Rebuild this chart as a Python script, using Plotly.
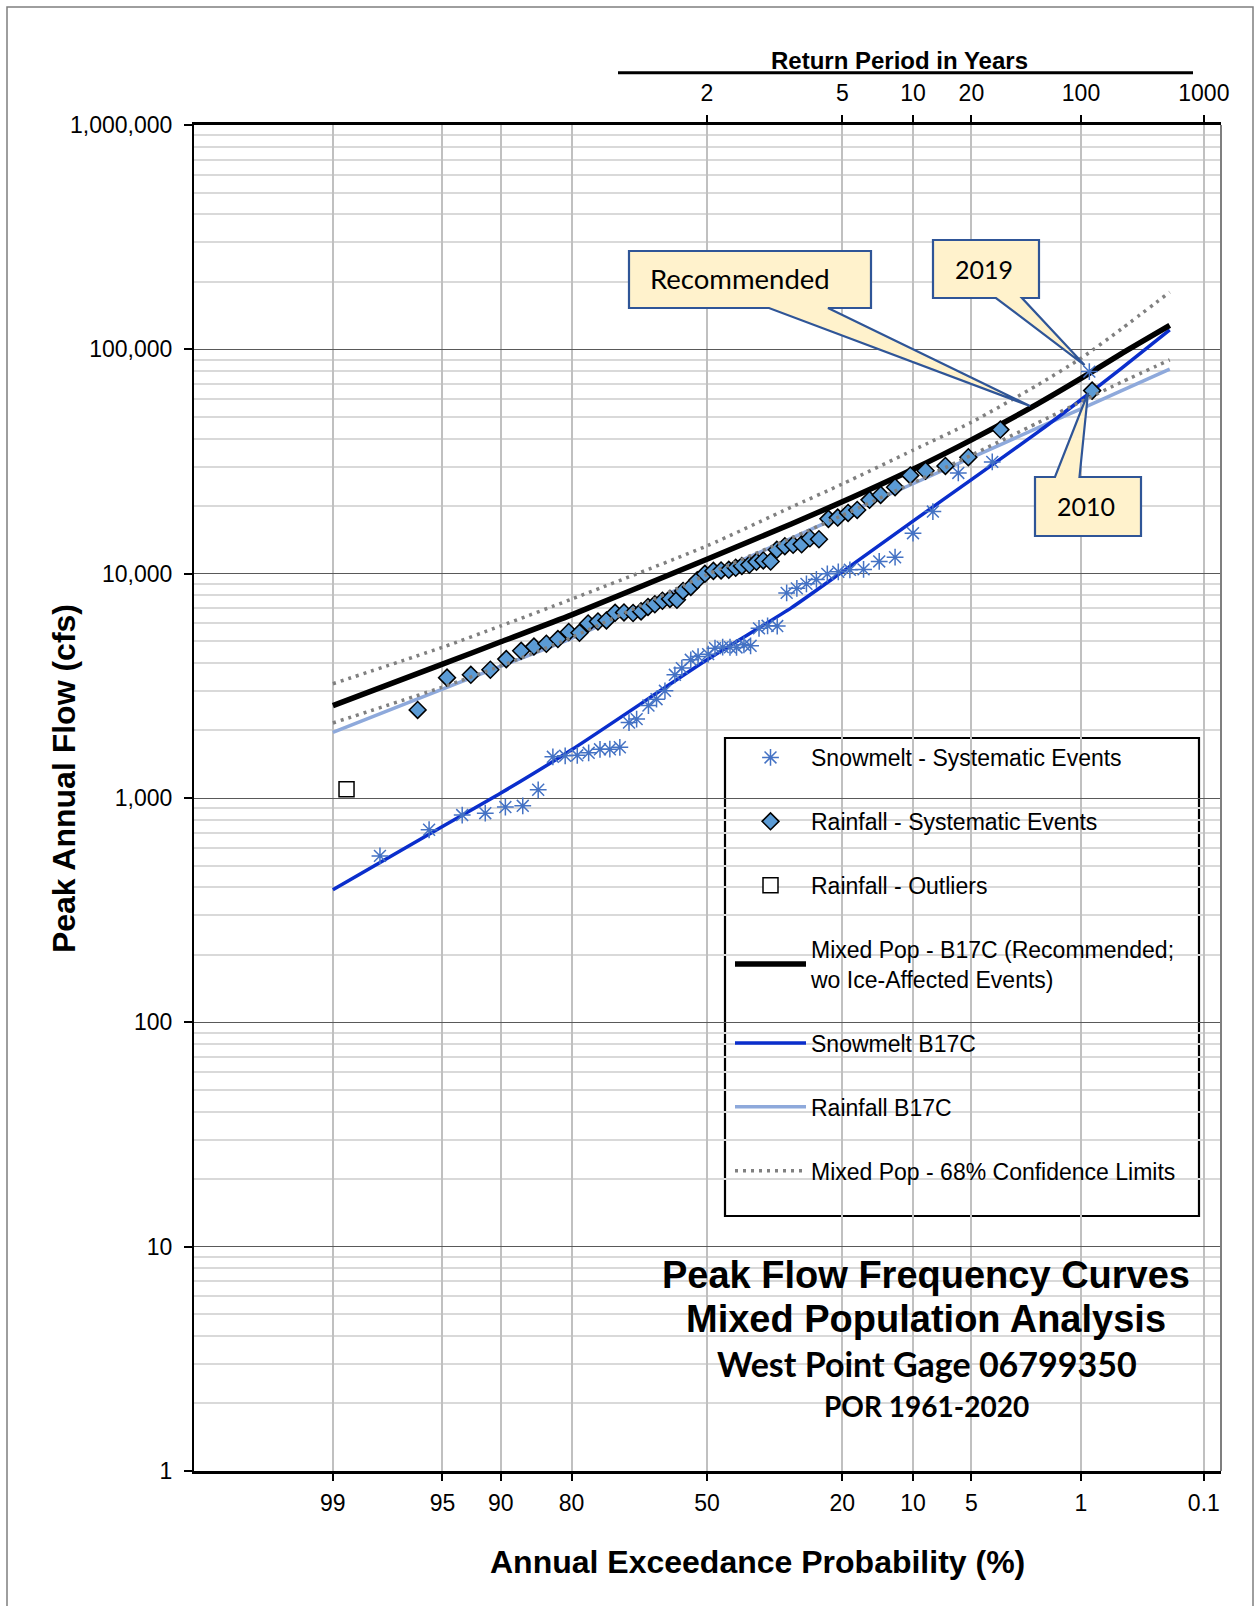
import plotly.graph_objects as go
from statistics import NormalDist

# ---------------- data ----------------
snow_aep = [97.9, 95.8, 93.6, 91.6, 89.5, 87.4, 85.3, 83.1, 81.1, 79.0, 76.9, 74.7, 72.7, 70.6,
            68.6, 66.9, 64.2, 62.3, 60.3, 57.9, 56.2, 54.0, 52.2, 49.7, 48.0, 46.1, 44.3, 42.7,
            40.9, 39.3, 37.3, 35.3, 33.1, 31.0, 28.8, 26.8, 24.8, 22.7, 20.7, 18.7, 16.5, 14.2,
            12.1, 10.0, 8.0, 5.9, 3.8, 0.87]
snow_q = [552, 722, 839, 856, 911, 923, 1088, 1526, 1542, 1550, 1590, 1648, 1650, 1683,
          2168, 2247, 2584, 2758, 3004, 3540, 3793, 4130, 4272, 4378, 4656, 4705, 4700, 4690,
          4816, 4767, 5704, 5853, 5840, 8210, 8600, 9006, 9424, 9980, 10190, 10400, 10450, 11340,
          11840, 15150, 18910, 28130, 31500, 79560]

rain_aep = [96.4, 94.7, 92.9, 91.1, 89.4, 87.6, 85.9, 84.1, 82.3, 80.5, 78.6, 77.0, 75.1, 73.4,
            71.6, 69.7, 67.7, 65.9, 64.3, 62.7, 60.9, 59.1, 57.4, 55.9, 54.0, 52.4, 50.5, 48.4,
            46.5, 44.6, 42.9, 41.4, 39.6, 37.9, 36.3, 34.6, 33.2, 31.4, 29.6, 27.8, 26.1, 24.3,
            22.5, 20.8, 19.0, 17.5, 15.6, 14.0, 12.1, 10.3, 8.7, 6.9, 5.2, 3.4, 0.83]
rain_q = [2470, 3440, 3540, 3730, 4160, 4530, 4730, 4870, 5110, 5500, 5450, 6000, 6120, 6190,
          6690, 6720, 6680, 6790, 7110, 7300, 7570, 7720, 7650, 8380, 8730, 9340, 9980, 10290,
          10340, 10400, 10620, 10830, 10950, 11290, 11460, 11330, 12770, 13260, 13440, 13510, 14390, 14240,
          17550, 17780, 18660, 19240, 21330, 22450, 24300, 27420, 28770, 30230, 33050, 43870, 65460]

outlier_aep = [98.75]
outlier_q = [1095]

curve_aep = [99, 95, 90, 80, 50, 30, 20, 10, 5, 2, 1, 0.5, 0.2]
mixed_q = [2580, 3950, 4970, 6550, 11600, 16660, 20900, 29200, 39500, 57000, 74200, 95500, 127900]
snow_fit_q = [390, 746, 1052, 1640, 4130, 7040, 10190, 17140, 26260, 42500, 59600, 82100, 122000]
rain_fit_q = [1960, 3055, 3870, 5150, 9780, 14380, 18200, 25160, 32900, 44500, 54300, 65300, 81600]
ci_upper_q = [3230, 4700, 5850, 7700, 13300, 19800, 25100, 35500, 47300, 69200, 91200, 123000, 180000]
ci_lower_q = [2160, 3120, 3880, 5200, 9900, 14400, 18200, 25400, 33750, 46900, 58400, 71300, 89700]

aep_ticks = [99, 95, 90, 80, 50, 20, 10, 5, 1, 0.1]
aep_tick_text = ["99", "95", "90", "80", "50", "20", "10", "5", "1", "0.1"]
rp_tick_aep = [50, 20, 10, 5, 1, 0.1]
rp_tick_text = ["2", "5", "10", "20", "100", "1000"]
q_ticks = [1, 10, 100, 1000, 10000, 100000, 1000000]
q_tick_text = ["1", "10", "100", "1,000", "10,000", "100,000", "1,000,000"]
q_minor = [k * 10 ** n for n in range(6) for k in range(2, 10)]

# ---------------- probability scale (normal deviate of non-exceedance) ----------------
_nd = NormalDist()


def z(p):
    return _nd.inv_cdf(1 - p / 100.0)


def zs(ps):
    return [z(p) for p in ps]


# ---------------- layout geometry ----------------
FIG_W, FIG_H = 1255, 1606
L, R, T, B = 194, 1221, 125, 1471
W, H = R - L, B - T
X_RANGE = [-3.190, 3.197]


def px(x):
    return (x - L) / W


def py(y):
    return (B - y) / H


def poly(points):
    return "M " + " L ".join(f"{px(a):.5f},{py(b):.5f}" for a, b in points) + " Z"


ARIAL = "Liberation Sans, Arial, sans-serif"
CALIBRI = "Lato, Carlito, Calibri, sans-serif"
SMOOTH = dict(shape="spline", smoothing=0.6)

fig = go.Figure()

# fitted curves
fig.add_trace(go.Scatter(x=zs(curve_aep), y=ci_upper_q, mode="lines", name="Mixed Pop - 68% Confidence Limits",
                         line=dict(color="#808080", width=3.5, dash="3px,5px", **SMOOTH),
                         legendgroup="g7", legendrank=7))
fig.add_trace(go.Scatter(x=zs(curve_aep), y=ci_lower_q, mode="lines", name="Mixed Pop - 68% Confidence Limits",
                         line=dict(color="#808080", width=3.5, dash="3px,5px", **SMOOTH), legendgroup="g7",
                         showlegend=False, xaxis="x2"))
fig.add_trace(go.Scatter(x=zs(curve_aep), y=rain_fit_q, mode="lines", name="Rainfall B17C",
                         line=dict(color="#8EA9DB", width=3.5, **SMOOTH), legendgroup="g6", legendrank=6))
fig.add_trace(go.Scatter(x=zs(curve_aep), y=snow_fit_q, mode="lines", name="Snowmelt B17C",
                         line=dict(color="#0A2ECC", width=3.5, **SMOOTH), legendgroup="g5", legendrank=5))
fig.add_trace(go.Scatter(x=zs(curve_aep), y=mixed_q, mode="lines",
                         name="Mixed Pop - B17C (Recommended;<br>wo Ice-Affected Events)",
                         line=dict(color="#000000", width=5.5, **SMOOTH), legendgroup="g4", legendrank=4))
# observed events
fig.add_trace(go.Scatter(x=zs(snow_aep), y=snow_q, mode="markers", name="Snowmelt - Systematic Events",
                         marker=dict(symbol="asterisk-open", size=14, color="#4472C4",
                                     line=dict(color="#4472C4", width=1.5)),
                         legendgroup="g1", legendrank=1))
fig.add_trace(go.Scatter(x=zs(rain_aep), y=rain_q, mode="markers", name="Rainfall - Systematic Events",
                         marker=dict(symbol="diamond", size=13, color="#5B9BD5",
                                     line=dict(color="#000000", width=1.5)),
                         legendgroup="g2", legendrank=2))
fig.add_trace(go.Scatter(x=zs(outlier_aep), y=outlier_q, mode="markers", name="Rainfall - Outliers",
                         marker=dict(symbol="square", size=15, color="#FFFFFF",
                                     line=dict(color="#000000", width=1.5)),
                         legendgroup="g3", legendrank=3))

shapes = [
    # page border
    dict(type="rect", xref="paper", yref="paper", x0=px(7), x1=px(1253), y0=py(1640), y1=py(7),
         line=dict(color="#7F7F7F", width=1.5), fillcolor="rgba(0,0,0,0)", layer="above"),
    # right plot border
    dict(type="line", xref="paper", yref="paper", x0=1, x1=1, y0=0, y1=1,
         line=dict(color="#7F7F7F", width=2)),
    # white panel behind the chart title
    dict(type="rect", xref="paper", yref="paper", x0=px(654), x1=px(1199), y0=py(1428), y1=py(1249),
         fillcolor="white", line=dict(width=0), layer="between"),
    # legend box
    dict(type="rect", xref="paper", yref="paper", x0=px(725), x1=px(1199), y0=py(1216), y1=py(738),
         fillcolor="white", line=dict(color="black", width=2.2), layer="between"),
    # rule under "Return Period in Years"
    dict(type="line", xref="paper", yref="paper", x0=px(618), x1=px(1193), y0=py(72.7), y1=py(72.7),
         line=dict(color="black", width=3)),
]

callout_style = dict(type="path", xref="paper", yref="paper", fillcolor="#FFF2CC",
                     line=dict(color="#2F5597", width=2.2), layer="above")
shapes.append(dict(path=poly([(629, 251), (871, 251), (871, 308), (828, 308), (1030, 406),
                              (769, 308), (629, 308)]), **callout_style))
shapes.append(dict(path=poly([(933, 240), (1039, 240), (1039, 298), (1022, 298), (1084.5, 365),
                              (996, 298), (933, 298)]), **callout_style))
shapes.append(dict(path=poly([(1035, 477), (1055, 477), (1088, 393), (1079.5, 477), (1141, 477),
                              (1141, 536), (1035, 536)]), **callout_style))


def ann(text, x, y, size, family=ARIAL, bold=False, angle=0):
    return dict(text=f"<b>{text}</b>" if bold else text, xref="paper", yref="paper",
                x=px(x), y=py(y), xanchor="center", yanchor="middle", showarrow=False,
                textangle=angle, font=dict(family=family, size=size, color="black"))


annotations = [
    ann("Return Period in Years", 899.5, 60.4, 24, bold=True),
    ann("Annual Exceedance Probability (%)", 757, 1561.6, 32, bold=True),
    ann("Peak Annual Flow (cfs)", 63.5, 778.6, 32, bold=True, angle=-90),
    ann("Peak Flow Frequency Curves", 926, 1274.5, 38, bold=True),
    ann("Mixed Population Analysis", 926, 1318.5, 38, bold=True),
    ann("West Point Gage 06799350", 926.5, 1363.6, 34, family=CALIBRI, bold=True),
    ann("POR 1961-2020", 926, 1405.6, 28, family=CALIBRI, bold=True),
    ann("Recommended", 739.5, 278.7, 27.5, family=CALIBRI),
    ann("2019", 983.5, 269.4, 25, family=CALIBRI),
    ann("2010", 1086, 506, 25, family=CALIBRI),
]

tickfont = dict(family=ARIAL, size=23, color="black")

fig.update_layout(
    width=FIG_W, height=FIG_H, autosize=False,
    margin=dict(l=L, r=FIG_W - R, t=T, b=FIG_H - B, pad=0),
    paper_bgcolor="white", plot_bgcolor="white",
    showlegend=True,
    legend=dict(x=px(730), y=py(736), xanchor="left", yanchor="top",
                bgcolor="rgba(0,0,0,0)", borderwidth=0, traceorder="grouped",
                tracegroupgap=31, itemwidth=71,
                font=dict(family=ARIAL, size=23, color="black")),
    xaxis=dict(range=X_RANGE, tickmode="array", tickvals=zs(aep_ticks), ticktext=aep_tick_text,
               showgrid=True, gridcolor="#C0C0C0", gridwidth=2, zeroline=False,
               showline=True, linecolor="black", linewidth=2.5,
               ticks="outside", ticklen=7, tickwidth=1.5, tickcolor="black",
               tickfont=tickfont, ticklabelstandoff=3),
    xaxis2=dict(range=X_RANGE, overlaying="x", side="top", tickmode="array",
                tickvals=zs(rp_tick_aep), ticktext=rp_tick_text,
                showgrid=False, zeroline=False, showline=True, linecolor="black", linewidth=2.5,
                ticks="outside", ticklen=7, tickwidth=1.5, tickcolor="black",
                tickfont=tickfont, ticklabelstandoff=5),
    yaxis=dict(type="log", range=[0, 6], tickmode="array", tickvals=q_ticks, ticktext=q_tick_text,
               showgrid=True, gridcolor="#595959", gridwidth=1.2, zeroline=False,
               showline=True, linecolor="black", linewidth=2,
               ticks="outside", ticklen=8, tickwidth=1.5, tickcolor="black",
               tickfont=tickfont, ticklabelstandoff=7,
               minor=dict(tickmode="array", tickvals=q_minor, showgrid=True,
                          gridcolor="#D9D9D9", gridwidth=1.5, ticks="")),
    shapes=shapes,
    annotations=annotations,
)

fig.write_html("out.html", config={"displayModeBar": False},
               post_script="document.body.style.margin='0px';")
